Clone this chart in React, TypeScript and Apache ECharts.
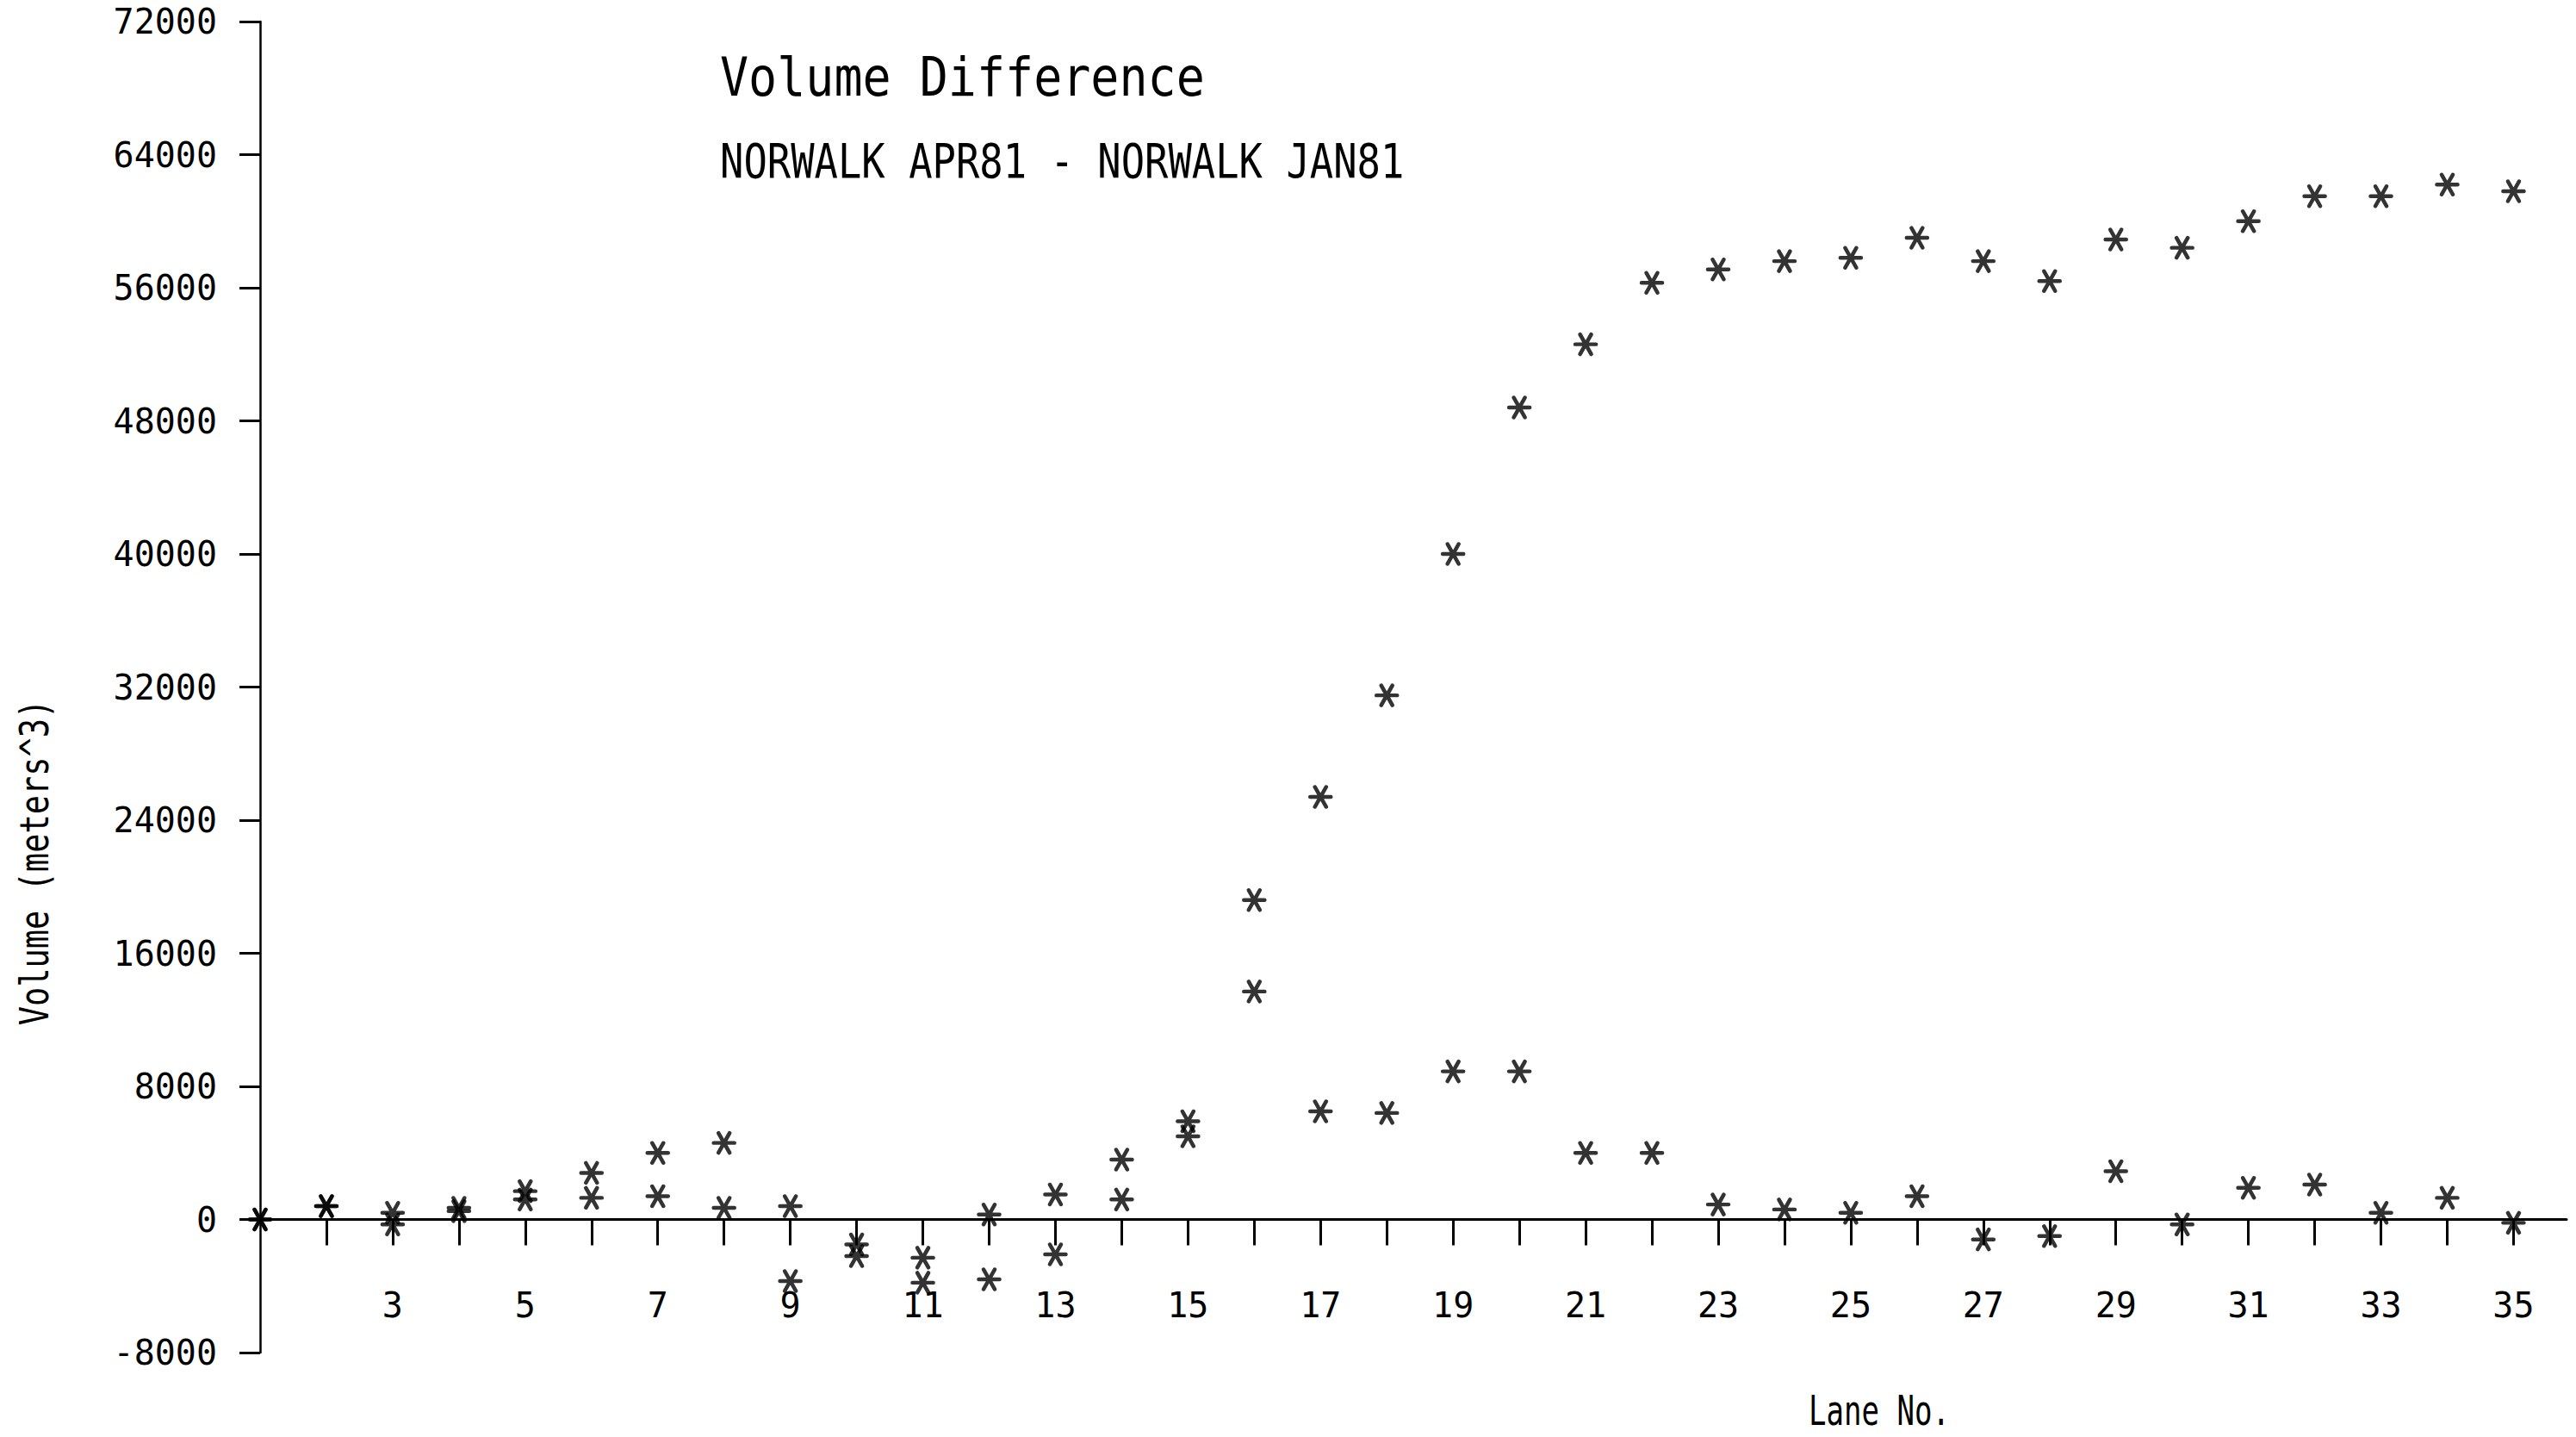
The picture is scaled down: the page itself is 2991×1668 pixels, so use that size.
import React, { useEffect, useRef } from "react";
import * as echarts from "echarts";

// Lane numbers (x)
const lanes = [
  1, 2, 3, 4, 5, 6, 7, 8, 9, 10, 11, 12, 13, 14, 15, 16, 17, 18, 19, 20,
  21, 22, 23, 24, 25, 26, 27, 28, 29, 30, 31, 32, 33, 34, 35,
];

// Per-lane volume difference (m^3)
const laneDifference = [
  0, 800, -300, 500, 1200, 1300, 1400, 700, -3700, -2200, -2300, 300, 1500,
  3600, 5000, 13700, 6500, 6400, 8900, 8900, 4000, 4000, 900, 600, 400, 1400,
  -1200, -1000, 2900, -300, 1900, 2100, 400, 1300, -200,
];

// Cumulative volume difference (m^3)
const cumulativeDifference = [
  0, 800, 400, 700, 1700, 2800, 4000, 4600, 800, -1500, -3800, -3600, -2100,
  1200, 5900, 19200, 25400, 31500, 40000, 48800, 52600, 56300, 57100, 57600,
  57800, 59000, 57600, 56400, 58900, 58400, 60000, 61500, 61500, 62200, 61800,
];

// Axis ticks / labels
const laneTickValues = [
  2, 3, 4, 5, 6, 7, 8, 9, 10, 11, 12, 13, 14, 15, 16, 17, 18, 19, 20, 21, 22,
  23, 24, 25, 26, 27, 28, 29, 30, 31, 32, 33, 34, 35,
];
const laneLabelValues = [
  3, 5, 7, 9, 11, 13, 15, 17, 19, 21, 23, 25, 27, 29, 31, 33, 35,
];

const TITLE = "Volume Difference";
const SUBTITLE = "NORWALK APR81 - NORWALK JAN81";
const Y_NAME = "Volume (meters^3)";
const X_NAME = "Lane No.";

const ASTERISK =
  "path://M-12,0L12,0M-6.5,-11.5L6.5,11.5M6.5,-11.5L-6.5,11.5";

export default function App() {
  const ref = useRef<HTMLDivElement>(null);

  useEffect(() => {
    const el = ref.current;
    if (!el) return;
    const chart = echarts.init(el, null, { renderer: "svg" });
    const mono = "'DejaVu Sans Mono', monospace";

    const markerStyle = {
      color: "rgba(0,0,0,0)",
      borderColor: "#000",
      borderWidth: 4.5,
      borderCap: "round",
    };

    chart.setOption({
      animation: false,
      backgroundColor: "#ffffff",
      grid: {
        left: 302,
        right: 11,
        top: 25,
        bottom: 98,
        containLabel: false,
        outerBoundsMode: "none",
      },
      xAxis: {
        type: "value",
        position: "bottom",
        offset: -154.5,
        min: 1,
        max: 35.8,
        interval: 1,
        axisLine: {
          show: true,
          onZero: false,
          lineStyle: { color: "#000", width: 3 },
        },
        axisTick: {
          show: true,
          inside: false,
          length: 30,
          customValues: laneTickValues,
          lineStyle: { color: "#000", width: 3 },
        },
        axisLabel: {
          show: true,
          customValues: laneLabelValues,
          margin: 79,
          fontFamily: mono,
          fontSize: 40,
          color: "#000",
        },
        splitLine: { show: false },
      },
      yAxis: {
        type: "value",
        min: -8000,
        max: 72000,
        interval: 8000,
        axisLine: { show: true, lineStyle: { color: "#000", width: 2.5 } },
        axisTick: {
          show: true,
          inside: false,
          length: 24,
          lineStyle: { color: "#000", width: 3 },
        },
        axisLabel: {
          show: true,
          margin: 50,
          fontFamily: mono,
          fontSize: 40,
          color: "#000",
          formatter: (v: number) => String(v),
        },
        splitLine: { show: false },
      },
      graphic: [
        {
          type: "text",
          x: 836,
          y: 90,
          scaleY: 1.12,
          silent: true,
          style: {
            text: TITLE,
            x: 0,
            y: 0,
            align: "left",
            verticalAlign: "middle",
            fontFamily: mono,
            fontSize: 55,
            fill: "#000",
          },
        },
        {
          type: "text",
          x: 836,
          y: 187,
          scaleY: 1.22,
          silent: true,
          style: {
            text: SUBTITLE,
            x: 0,
            y: 0,
            align: "left",
            verticalAlign: "middle",
            fontFamily: mono,
            fontSize: 45.5,
            fill: "#000",
          },
        },
        {
          type: "text",
          x: 40,
          y: 1001,
          rotation: Math.PI / 2,
          scaleY: 1.25,
          silent: true,
          style: {
            text: Y_NAME,
            x: 0,
            y: 0,
            align: "center",
            verticalAlign: "middle",
            fontFamily: mono,
            fontSize: 37,
            fill: "#000",
          },
        },
        {
          type: "text",
          x: 2182,
          y: 1638,
          scaleY: 1.4,
          silent: true,
          style: {
            text: X_NAME,
            x: 0,
            y: 0,
            align: "center",
            verticalAlign: "middle",
            fontFamily: mono,
            fontSize: 34,
            fill: "#000",
          },
        },
      ],
      series: [
        {
          type: "scatter",
          name: "Lane volume difference",
          data: lanes.map((l, i) => [l, laneDifference[i]]),
          symbol: ASTERISK,
          symbolSize: [24, 23],
          itemStyle: markerStyle,
          silent: true,
          emphasis: { disabled: true },
        },
        {
          type: "scatter",
          name: "Cumulative volume difference",
          data: lanes.map((l, i) => [l, cumulativeDifference[i]]),
          symbol: ASTERISK,
          symbolSize: [24, 23],
          itemStyle: markerStyle,
          silent: true,
          emphasis: { disabled: true },
        },
      ],
    });

    return () => {
      chart.dispose();
    };
  }, []);

  return (
    <div
      ref={ref}
      style={{
        position: "fixed",
        left: 0,
        top: 0,
        width: 2991,
        height: 1668,
        background: "#ffffff",
      }}
    />
  );
}
